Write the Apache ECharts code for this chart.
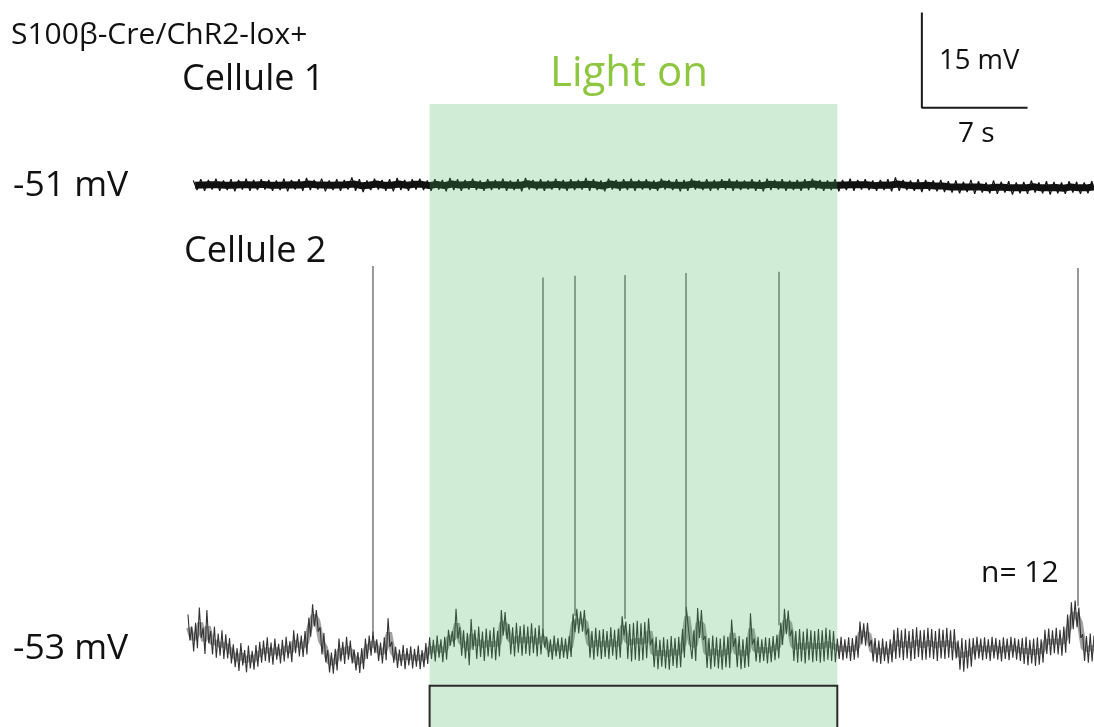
<!DOCTYPE html>
<html>
<head>
<meta charset="utf-8">
<script src="https://cdn.jsdelivr.net/npm/echarts@6/dist/echarts.min.js"></script>
<style>
html, body { margin: 0; padding: 0; background: #fff; }
#chartMain { width: 1094px; height: 727px; }
</style>
</head>
<body>
<div id="chartMain"></div>
<script>
// time axis (s) and light stimulus
var tMax = 60;
var lightOn = 16;
var lightOff = 43;
var stimTop = -59.5;

// Cellule 1 : envelope of the noisy trace, one pair every 0.5 s from t0
var trace1T0 = 0.35;
var trace1Dt = 0.5;
var trace1Hi = [
    -50.3, -50.1, -50.2, -50.0, -50.3, -50.1, -50.2, -50.0, -50.2, -50.1,
    -50.2, -50.3, -50.0, -50.2, -50.1, -49.9, -50.2, -50.0, -50.3, -50.1,
    -50.2, -49.8, -50.1, -50.3, -50.0, -50.2, -50.1, -49.9, -50.2, -50.1,
    -50.0, -50.3, -50.1, -50.2, -49.9, -50.1, -50.2, -50.0, -50.3, -50.1,
    -50.2, -50.0, -50.3, -50.1, -49.9, -50.2, -50.1, -50.3, -50.0, -50.2,
    -50.1, -50.2, -49.9, -50.1, -50.3, -50.0, -50.2, -50.1, -50.0, -50.2,
    -50.1, -50.3, -50.0, -50.2, -50.1, -50.2, -50.0, -50.3, -50.1, -50.2,
    -50.1, -50.0, -50.2, -50.3, -50.1, -50.2, -50.0, -50.2, -50.1, -50.3,
    -50.2, -50.1, -50.0, -50.2, -50.3, -50.1, -50.2, -50.0, -50.2, -50.1,
    -50.3, -50.2, -50.1, -49.8, -50.2, -50.3, -50.1, -50.2, -50.3, -50.2,
    -50.4, -50.3, -50.5, -50.2, -50.4, -50.6, -50.3, -50.5, -50.4, -50.6,
    -50.5, -50.3, -50.6, -50.4, -50.5, -50.6, -50.4, -50.5, -50.6, -50.4
];
var trace1Lo = [
    -51.8, -51.9, -51.7, -51.9, -51.8, -52.0, -51.7, -51.9, -51.8, -51.7,
    -51.9, -51.8, -52.0, -51.7, -51.9, -51.8, -51.7, -52.0, -51.8, -51.9,
    -51.7, -51.9, -52.1, -51.8, -51.7, -51.9, -52.0, -51.8, -51.9, -51.7,
    -51.8, -51.9, -51.7, -52.0, -51.8, -51.9, -51.7, -51.8, -51.9, -51.8,
    -51.7, -51.9, -51.8, -52.0, -51.7, -51.8, -51.9, -51.7, -51.8, -51.9,
    -51.8, -51.7, -51.9, -51.8, -52.0, -51.7, -51.9, -51.8, -51.9, -51.7,
    -51.8, -51.9, -51.7, -51.8, -52.0, -51.9, -51.7, -51.8, -51.9, -51.8,
    -51.7, -51.9, -51.8, -51.7, -51.9, -52.0, -51.8, -51.7, -51.9, -51.8,
    -51.9, -51.8, -51.7, -51.9, -51.8, -52.0, -51.8, -51.9, -51.7, -51.8,
    -51.9, -51.8, -52.0, -51.9, -51.8, -51.9, -52.1, -51.9, -52.0, -52.1,
    -52.2, -52.3, -52.1, -52.4, -52.2, -52.3, -52.4, -52.2, -52.5, -52.3,
    -52.4, -52.2, -52.3, -52.5, -52.3, -52.4, -52.2, -52.4, -52.3, -52.2
];

// Cellule 2 : envelope of the noisy trace, one pair every 0.25 s
var trace2Dt = 0.25;
var trace2Hi = [
    -48.3, -50.2, -49.6, -47.2, -50.4, -47.6, -50.9, -50.2, -51.3, -50.8,
    -51.4, -52.0, -53.0, -53.6, -52.8, -53.9, -53.2, -54.0, -53.1, -52.6,
    -52.4, -51.9, -52.7, -52.1, -52.9, -52.3, -51.8, -52.5, -50.8, -51.3,
    -51.6, -50.9, -48.8, -46.7, -47.6, -50.3, -51.2, -53.9, -54.3, -53.7,
    -52.1, -52.6, -51.8, -52.4, -53.8, -54.2, -53.6, -52.1, -51.6, -51.0,
    -52.2, -52.7, -51.9, -48.9, -52.6, -53.4, -53.8, -53.1, -53.6, -53.3,
    -53.7, -53.2, -53.9, -52.8, -51.9, -52.3, -51.6, -52.2, -51.8, -50.7,
    -50.9, -47.4, -50.3, -50.8, -51.2, -49.0, -50.7, -50.2, -51.0, -50.5,
    -50.8, -50.3, -50.9, -47.6, -47.9, -49.8, -50.3, -49.6, -50.1, -49.9,
    -50.2, -49.7, -50.4, -50.0, -50.5, -51.8, -52.2, -51.6, -52.0, -51.9,
    -52.1, -51.7, -48.2, -47.4, -47.8, -47.6, -50.5, -50.9, -50.4, -50.8,
    -50.6, -50.9, -50.3, -50.7, -50.5, -48.6, -49.4, -49.8, -49.6, -49.3,
    -49.7, -49.5, -48.9, -52.1, -51.8, -52.3, -51.9, -52.2, -51.7, -52.0,
    -51.8, -50.6, -47.1, -50.4, -50.8, -47.3, -47.6, -51.7, -52.0, -51.6,
    -51.9, -52.1, -51.6, -51.8, -49.1, -52.0, -51.7, -52.2, -51.9, -48.1,
    -52.1, -51.8, -52.2, -51.9, -52.0, -51.7, -51.5, -49.6, -47.4, -47.7,
    -50.7, -50.9, -50.6, -51.0, -50.5, -50.8, -50.9, -50.6, -50.8, -50.4,
    -50.7, -50.9, -52.1, -51.8, -52.2, -51.9, -52.0, -51.6, -49.4, -49.7,
    -49.6, -52.3, -52.0, -52.4, -52.1, -52.5, -52.2, -50.7, -50.4, -50.8,
    -50.5, -50.9, -50.6, -50.3, -50.8, -50.7, -50.4, -50.6, -50.9, -50.5,
    -50.7, -50.4, -50.8, -50.6, -52.4, -52.0, -52.3, -52.1, -52.0, -51.8,
    -52.1, -51.9, -52.2, -51.8, -52.0, -52.3, -51.9, -52.1, -51.8, -52.0,
    -52.2, -52.0, -51.8, -52.3, -52.1, -51.9, -52.2, -50.7, -50.5, -50.8,
    -50.4, -50.7, -50.2, -48.3, -46.4, -46.1, -47.2, -51.4, -51.7, -51.3,
    -51.6
];
var trace2Lo = [
    -52.4, -54.1, -53.6, -52.0, -54.5, -52.8, -54.6, -55.1, -54.8, -55.3,
    -55.2, -56.0, -56.6, -57.2, -56.3, -57.4, -56.8, -57.0, -56.5, -55.9,
    -55.6, -55.9, -56.2, -55.4, -56.0, -55.7, -55.2, -55.8, -54.4, -54.9,
    -55.0, -54.6, -51.8, -50.2, -51.0, -54.6, -55.8, -57.4, -57.6, -57.1,
    -55.7, -56.1, -55.4, -56.0, -57.1, -57.5, -56.9, -55.3, -54.8, -54.4,
    -55.6, -56.0, -55.5, -53.4, -55.9, -56.7, -56.4, -56.9, -56.3, -56.8,
    -56.5, -56.9, -56.6, -56.1, -55.3, -55.7, -55.1, -55.8, -55.4, -53.2,
    -53.4, -52.1, -54.8, -55.2, -56.3, -53.9, -55.3, -55.0, -55.6, -54.9,
    -55.2, -55.5, -54.9, -51.6, -52.2, -54.6, -54.9, -54.3, -54.8, -54.5,
    -54.8, -54.4, -54.9, -54.6, -53.5, -55.0, -55.4, -54.9, -55.3, -55.1,
    -55.3, -55.0, -51.1, -51.3, -51.0, -51.5, -55.1, -55.4, -54.9, -55.3,
    -55.0, -55.3, -54.8, -55.4, -55.1, -51.6, -55.3, -55.7, -55.4, -55.6,
    -55.5, -55.2, -53.1, -56.6, -56.9, -56.5, -56.8, -57.0, -56.4, -56.7,
    -56.6, -55.1, -50.2, -55.3, -55.6, -52.0, -52.3, -56.7, -56.9, -56.5,
    -56.8, -57.0, -56.6, -56.7, -53.4, -56.6, -56.9, -56.7, -56.5, -53.0,
    -55.7, -55.9, -55.6, -56.0, -55.8, -55.5, -55.2, -53.1, -51.4, -51.7,
    -55.6, -55.9, -55.7, -56.0, -55.5, -55.8, -55.6, -55.9, -55.7, -55.4,
    -55.6, -55.8, -55.3, -55.5, -55.2, -55.6, -55.4, -55.1, -53.0, -53.2,
    -53.3, -55.7, -55.9, -56.1, -55.6, -56.0, -55.8, -55.3, -55.1, -55.5,
    -55.2, -55.6, -55.3, -55.0, -55.5, -55.4, -55.1, -55.3, -55.6, -55.2,
    -55.3, -55.1, -55.5, -55.2, -57.0, -57.3, -56.8, -56.5, -55.4, -55.2,
    -55.5, -55.3, -55.6, -55.2, -55.4, -55.7, -55.3, -55.5, -55.1, -55.4,
    -55.6, -56.1, -56.3, -56.0, -56.4, -56.2, -55.9, -54.5, -54.7, -54.4,
    -54.6, -54.8, -54.3, -52.9, -50.6, -50.3, -52.0, -55.6, -55.9, -55.7,
    -55.8
];

// action potentials of cellule 2
var spikeTimes = [12.25, 23.51, 25.63, 28.94, 32.98, 39.14, 58.94];
var spikeBase = [-51.5, -51.5, -48.5, -49.0, -48.0, -50.0, -47.0];
var spikePeak = [6.5, 4.7, 5.0, 5.1, 5.4, 5.6, 6.2];

// scale bar : 15 mV / 7 s, corner position in cellule 2 units
var scaleT0 = 48.6;
var scaleV0 = 31.4;
var scaleMv = 15;
var scaleSec = 7;

// zigzag between the envelope values -> noisy band
function zigzag(t0, dt, hi, lo) {
    var pts = [];
    for (var i = 0; i < hi.length; i++) {
        pts.push([t0 + i * dt, hi[i]]);
        pts.push([t0 + i * dt + dt / 2, lo[i]]);
    }
    return pts;
}
function midline(t0, dt, hi, lo) {
    var pts = [];
    for (var i = 0; i < hi.length; i++) {
        pts.push([t0 + i * dt + dt / 4, (hi[i] + lo[i]) / 2]);
    }
    return pts;
}

var main = {
    init: function () {
        var myChart = echarts.init(document.getElementById('chartMain'), null, {renderer: 'canvas'});
        myChart.setOption(main.get_option());
    },
    get_option: function () {
        var font = '"Open Sans", "Noto Sans", sans-serif';
        var lineBase = {type: 'line', symbol: 'none', silent: true, z: 2};

        var series = [
            $.extend({}, lineBase, {xAxisIndex: 0, yAxisIndex: 0, data: midline(trace1T0, trace1Dt, trace1Hi, trace1Lo),
                lineStyle: {color: '#111', width: 7}}),
            $.extend({}, lineBase, {xAxisIndex: 0, yAxisIndex: 0, data: zigzag(trace1T0, trace1Dt, trace1Hi, trace1Lo),
                lineStyle: {color: '#111', width: 1.2}}),
            $.extend({}, lineBase, {xAxisIndex: 1, yAxisIndex: 1, data: midline(0, trace2Dt, trace2Hi, trace2Lo),
                lineStyle: {color: 'rgba(50,50,50,0.45)', width: 6}}),
            $.extend({}, lineBase, {xAxisIndex: 1, yAxisIndex: 1, data: zigzag(0, trace2Dt, trace2Hi, trace2Lo),
                lineStyle: {color: '#333', width: 1.1}})
        ];
        spikeTimes.forEach(function (t, k) {
            series.push($.extend({}, lineBase, {
                xAxisIndex: 1, yAxisIndex: 1,
                data: [[t, spikeBase[k]], [t, spikePeak[k]]],
                lineStyle: {color: '#555', width: 1.2}
            }));
        });
        // light on : green band + stimulus box
        series.push({
            type: 'custom', xAxisIndex: 1, yAxisIndex: 1, z: 10, silent: true,
            data: [[lightOn, lightOff]],
            renderItem: function (params, api) {
                var p0 = api.coord([api.value(0), 32]);
                var p1 = api.coord([api.value(1), -66]);
                return {
                    type: 'rect',
                    shape: {x: p0[0], y: p0[1], width: p1[0] - p0[0], height: p1[1] - p0[1] + 2},
                    style: {fill: 'rgba(67,175,91,0.25)'}
                };
            }
        });
        series.push({
            type: 'custom', xAxisIndex: 1, yAxisIndex: 1, z: 11, silent: true, clip: false,
            data: [[lightOn, lightOff, stimTop]],
            renderItem: function (params, api) {
                var p0 = api.coord([api.value(0), api.value(2)]);
                var p1 = api.coord([api.value(1), -70]);
                return {
                    type: 'rect',
                    shape: {x: p0[0], y: p0[1], width: p1[0] - p0[0], height: p1[1] - p0[1]},
                    style: {fill: 'none', stroke: '#2b2b2b', lineWidth: 2}
                };
            }
        });
        // scale bar
        series.push($.extend({}, lineBase, {
            xAxisIndex: 1, yAxisIndex: 1, clip: false, z: 12,
            data: [[scaleT0, scaleV0 + scaleMv], [scaleT0, scaleV0], [scaleT0 + scaleSec, scaleV0]],
            lineStyle: {color: '#1a1a1a', width: 2}
        }));

        function txt(str, x, y, size, color) {
            return {
                type: 'text', x: x, y: y, silent: true, z: 20,
                style: {text: str, fill: color || '#111', font: 'normal ' + size + 'px ' + font,
                    verticalAlign: 'middle'}
            };
        }

        return {
            animation: false,
            backgroundColor: '#fff',
            grid: [
                {left: 188, right: 0, top: 150, height: 70},
                {left: 188, right: 0, top: 104, bottom: 0}
            ],
            xAxis: [
                {type: 'value', gridIndex: 0, min: 0, max: tMax, show: false},
                {type: 'value', gridIndex: 1, min: 0, max: tMax, show: false}
            ],
            yAxis: [
                {type: 'value', gridIndex: 0, min: -56.5, max: -45.5, show: false},
                {type: 'value', gridIndex: 1, min: -66, max: 32, show: false}
            ],
            graphic: [
                txt('S100β-Cre/ChR2-lox+', 11, 35, 30),
                txt('Cellule 1', 182, 80, 36),
                txt('Light on', 550, 74, 42, '#8dc63f'),
                txt('-51 mV', 13, 186, 35.5),
                txt('Cellule 2', 184, 252, 36),
                txt('-53 mV', 13, 649, 35.5),
                txt('n= 12', 981, 573, 30),
                txt('15 mV', 939, 61, 27.5),
                txt('7 s', 958, 134, 28)
            ],
            series: series
        };
    }
};
// $.extend stand-in (no jQuery on this page)
var $ = {extend: function (o) {
    for (var a = 1; a < arguments.length; a++) {
        for (var k in arguments[a]) { o[k] = arguments[a][k]; }
    }
    return o;
}};
main.init();
</script>
</body>
</html>
